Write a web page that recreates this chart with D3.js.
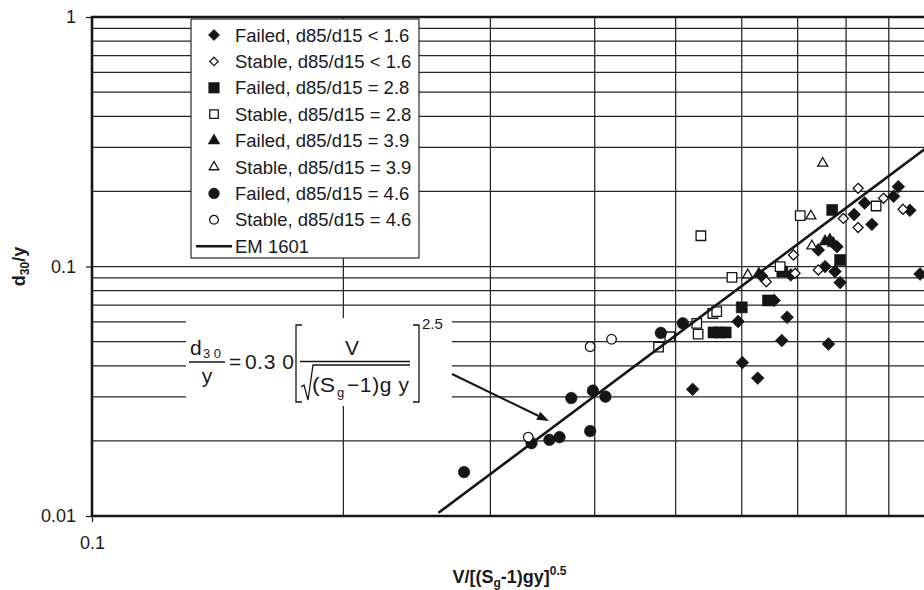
<!DOCTYPE html>
<html>
<head>
<meta charset="utf-8">
<script src="https://cdn.jsdelivr.net/npm/d3@7"></script>
<style>
  body { margin: 0; background: #fff; }
  text { font-family: "Liberation Sans", Arial, Helvetica, sans-serif; fill: #1a1a1a; }
</style>
</head>
<body>
<svg id="chart" width="924" height="590"></svg>
<script>
// ---- data: [V/sqrt((Sg-1)gy), d30/y] ----
const failedLt16 = [
  [0.524, 0.0322], [0.594, 0.0602], [0.601, 0.0412], [0.627, 0.0357], [0.634, 0.0916],
  [0.656, 0.0731], [0.670, 0.0505], [0.680, 0.0626], [0.687, 0.0925], [0.741, 0.1165],
  [0.755, 0.0999], [0.776, 0.0955], [0.787, 0.0862], [0.780, 0.1201], [0.762, 0.0489],
  [0.818, 0.1616], [0.842, 0.1797], [0.859, 0.1476], [0.912, 0.1911], [0.924, 0.2089],
  [0.954, 0.1680], [0.981, 0.0933]
];
const stableLt16 = [
  [0.642, 0.0869], [0.695, 0.0939], [0.692, 0.1112], [0.741, 0.0968], [0.794, 0.1558],
  [0.827, 0.2058], [0.827, 0.1433], [0.887, 0.1876], [0.936, 0.1696]
];
const failed28 = [
  [0.555, 0.0544], [0.564, 0.0544], [0.574, 0.0544], [0.600, 0.0686], [0.645, 0.0731],
  [0.671, 0.0955], [0.770, 0.1685], [0.787, 0.1062]
];
const stable28 = [
  [0.477, 0.0475], [0.492, 0.0523], [0.532, 0.0536], [0.530, 0.0592], [0.554, 0.0648],
  [0.560, 0.0659], [0.536, 0.1328], [0.584, 0.0904], [0.667, 0.0999], [0.705, 0.1598],
  [0.869, 0.1748]
];
const failed39 = [[0.629, 0.0934], [0.755, 0.1260], [0.765, 0.1277], [0.772, 0.1239]];
const stable39 = [[0.610, 0.0925], [0.726, 0.1594], [0.728, 0.1208], [0.750, 0.2593]];
const failed46 = [
  [0.279, 0.0150], [0.336, 0.0196], [0.353, 0.0202], [0.363, 0.0207], [0.375, 0.0297],
  [0.395, 0.0219], [0.398, 0.0318], [0.412, 0.0301], [0.480, 0.0542], [0.510, 0.0592]
];
const stable46 = [[0.333, 0.0207], [0.395, 0.0477], [0.419, 0.0511]];

// EM 1601 design line end points
const em1601 = [[0.26, 0.0103], [1.0, 0.30]];

// axes
const xGridValues = [0.2, 0.3, 0.4, 0.5, 0.6, 0.7, 0.8, 0.9];
const yGridValues = [0.02, 0.03, 0.04, 0.05, 0.06, 0.07, 0.08, 0.09, 0.1,
                     0.2, 0.3, 0.4, 0.5, 0.6, 0.7, 0.8, 0.9];
const xTickLabels = [0.1];
const yTickLabels = [0.01, 0.1, 1];

const seriesLabels = [
  "Failed, d85/d15 < 1.6", "Stable, d85/d15 < 1.6",
  "Failed, d85/d15 = 2.8", "Stable, d85/d15 = 2.8",
  "Failed, d85/d15 = 3.9", "Stable, d85/d15 = 3.9",
  "Failed, d85/d15 = 4.6", "Stable, d85/d15 = 4.6"
];
const lineLabel = "EM 1601";

// ---- layout ----
const svg = d3.select("#chart");
const L = 92, T = 17, R = 927, B = 516;
const x = d3.scaleLog().domain([0.1, 1]).range([L, R]);
const y = d3.scaleLog().domain([0.01, 1]).range([B, T]);
const ink = "#151515";

svg.append("rect").attr("width", 924).attr("height", 590).attr("fill", "#fff");

// grid
const grid = svg.append("g").attr("stroke", "#262626").attr("stroke-width", 1.25);
grid.selectAll("line.h").data(yGridValues).join("line")
  .attr("x1", L).attr("x2", R).attr("y1", d => y(d)).attr("y2", d => y(d));
grid.selectAll("line.v").data(xGridValues).join("line")
  .attr("y1", T).attr("y2", B).attr("x1", d => x(d)).attr("x2", d => x(d));

// marker shapes
function shapePath(shape, s) {
  if (shape === "diamond") return `M0,${-s}L${s},0L0,${s}L${-s},0Z`;
  if (shape === "square") return `M${-s/2},${-s/2}h${s}v${s}h${-s}Z`;
  if (shape === "triangle") {
    const h = s * Math.sqrt(3) / 2;
    return `M0,${-h*2/3}L${s/2},${h/3}L${-s/2},${h/3}Z`;
  }
  const r = s;
  return `M${r},0A${r},${r} 0 1,1 ${-r},0A${r},${r} 0 1,1 ${r},0Z`;
}

const series = [
  { data: failedLt16, shape: "diamond",  filled: true,  size: 6.4, lsize: 5.6 },
  { data: stableLt16, shape: "diamond",  filled: false, size: 5.0, lsize: 4.2 },
  { data: failed28,   shape: "square",   filled: true,  size: 11,  lsize: 10.5 },
  { data: stable28,   shape: "square",   filled: false, size: 9.5, lsize: 8.5 },
  { data: failed39,   shape: "triangle", filled: true,  size: 12,  lsize: 11.5 },
  { data: stable39,   shape: "triangle", filled: false, size: 10,  lsize: 9.5 },
  { data: failed46,   shape: "circle",   filled: true,  size: 5.8, lsize: 5.3 },
  { data: stable46,   shape: "circle",   filled: false, size: 4.8, lsize: 4.4 }
];

// equation panel background
svg.append("rect").attr("x", 186).attr("y", 318).attr("width", 266).attr("height", 88).attr("fill", "#fff");

// legend box
const lg = svg.append("g");
lg.append("rect").attr("x", 191).attr("y", 19).attr("width", 228).attr("height", 239)
  .attr("fill", "#fff").attr("stroke", ink).attr("stroke-width", 1.1);
const rowY = i => 35 + i * 26.4;
series.forEach((s, i) => {
  lg.append("path").attr("d", shapePath(s.shape, s.lsize))
    .attr("transform", `translate(214,${rowY(i)})`)
    .attr("fill", s.filled ? ink : "#fff").attr("stroke", ink)
    .attr("stroke-width", s.filled ? 0.6 : 1.3);
  lg.append("text").attr("x", 235).attr("y", rowY(i)).attr("dy", "0.36em")
    .attr("font-size", 18.5).text(seriesLabels[i]);
});
lg.append("line").attr("x1", 196).attr("x2", 232).attr("y1", rowY(8)).attr("y2", rowY(8))
  .attr("stroke", ink).attr("stroke-width", 2.6);
lg.append("text").attr("x", 235).attr("y", rowY(8)).attr("dy", "0.36em")
  .attr("font-size", 18.5).text(lineLabel);

// data markers
const clip = svg.append("clipPath").attr("id", "plotClip");
clip.append("rect").attr("x", L).attr("y", T).attr("width", R - L).attr("height", B - T);
const marks = svg.append("g").attr("clip-path", "url(#plotClip)");
series.forEach(s => {
  marks.append("g").selectAll("path").data(s.data).join("path")
    .attr("d", shapePath(s.shape, s.size))
    .attr("transform", d => `translate(${x(d[0])},${y(d[1])})`)
    .attr("fill", s.filled ? ink : "#fff").attr("stroke", ink)
    .attr("stroke-width", s.filled ? 0.6 : 1.3);
});

// EM 1601 line
marks.append("path").datum(em1601)
  .attr("d", d3.line().x(d => x(d[0])).y(d => y(d[1])))
  .attr("fill", "none").attr("stroke", ink).attr("stroke-width", 2.6);

// frame
const frame = svg.append("g").attr("stroke", ink).attr("stroke-width", 2.6).attr("fill", "none");
frame.append("path").attr("d", `M${R},${T}H${L}V${B}H${R}`);

// axes (tick marks + labels)
const yAxis = d3.axisLeft(y).tickValues(yTickLabels).tickFormat(d3.format("")).tickSize(6).tickPadding(10);
const ya = svg.append("g").attr("transform", `translate(${L},0)`).call(yAxis);
ya.select(".domain").remove();
ya.selectAll("line").attr("stroke", ink).attr("stroke-width", 1.2);
ya.selectAll("text").attr("font-size", 18).attr("fill", "#1a1a1a")
  .attr("font-family", "Liberation Sans, Arial, sans-serif");

const xAxis = d3.axisBottom(x).tickValues(xTickLabels).tickFormat(d3.format("")).tickSize(6).tickPadding(14);
const xa = svg.append("g").attr("transform", `translate(0,${B})`).call(xAxis);
xa.select(".domain").remove();
xa.selectAll("line").attr("stroke", ink).attr("stroke-width", 1.2);
xa.selectAll("text").attr("font-size", 18).attr("fill", "#1a1a1a")
  .attr("font-family", "Liberation Sans, Arial, sans-serif");

// axis titles
const xt = svg.append("text").attr("x", (L + R) / 2).attr("y", 583).attr("text-anchor", "middle")
  .attr("font-size", 18).attr("font-weight", "bold");
xt.append("tspan").text("V/[(S");
xt.append("tspan").attr("font-size", 12).attr("dy", 4).text("g");
xt.append("tspan").attr("dy", -4).text("-1)gy]");
xt.append("tspan").attr("font-size", 12).attr("dy", -8).text("0.5");

const yt = svg.append("text").attr("transform", `translate(25,${(T + B) / 2}) rotate(-90)`)
  .attr("text-anchor", "middle").attr("font-size", 18).attr("font-weight", "bold");
yt.append("tspan").text("d");
yt.append("tspan").attr("font-size", 12).attr("dy", 4).text("30");
yt.append("tspan").attr("dy", -4).text("/y");

// design equation
const eq = svg.append("g");
eq.append("text").attr("x", 190).attr("y", 355).attr("font-size", 21).text("d");
eq.append("text").attr("x", 203).attr("y", 358).attr("font-size", 13)
  .attr("textLength", 18).attr("lengthAdjust", "spacing").text("3 0");
eq.append("line").attr("x1", 189).attr("x2", 225).attr("y1", 362).attr("y2", 362)
  .attr("stroke", ink).attr("stroke-width", 1.3);
eq.append("text").attr("x", 207).attr("y", 383).attr("font-size", 21).attr("text-anchor", "middle").text("y");
eq.append("text").attr("x", 229).attr("y", 369).attr("font-size", 21).text("=");
eq.append("text").attr("x", 245).attr("y", 369).attr("font-size", 21)
  .attr("textLength", 49).attr("lengthAdjust", "spacing").text("0.3 0");
eq.append("path").attr("d", "M302,325H296V402H302").attr("fill", "none").attr("stroke", ink).attr("stroke-width", 1.3);
eq.append("path").attr("d", "M413,325H419V402H413").attr("fill", "none").attr("stroke", ink).attr("stroke-width", 1.3);
eq.append("text").attr("x", 352).attr("y", 355).attr("font-size", 21).attr("text-anchor", "middle").text("V");
eq.append("line").attr("x1", 300).attr("x2", 410).attr("y1", 361.5).attr("y2", 361.5)
  .attr("stroke", ink).attr("stroke-width", 1.3);
eq.append("path").attr("d", "M301,387L304,385L308,400L313,365H410")
  .attr("fill", "none").attr("stroke", ink).attr("stroke-width", 1.3);
eq.append("text").attr("x", 312).attr("y", 392).attr("font-size", 21)
  .attr("textLength", 23).attr("lengthAdjust", "spacingAndGlyphs").text("(S");
eq.append("text").attr("x", 337).attr("y", 397).attr("font-size", 13).text("g");
eq.append("text").attr("x", 347).attr("y", 392).attr("font-size", 21)
  .attr("textLength", 62).attr("lengthAdjust", "spacing").text("\u22121)g y");
eq.append("text").attr("x", 422).attr("y", 329).attr("font-size", 15).text("2.5");

// arrow to the design line
const a0 = [452, 374], a1 = [549, 421];
const ang = Math.atan2(a1[1] - a0[1], a1[0] - a0[0]);
const hl = 12, hw = 4.5;
const base = [a1[0] - hl * Math.cos(ang), a1[1] - hl * Math.sin(ang)];
svg.append("line").attr("x1", a0[0]).attr("y1", a0[1]).attr("x2", base[0]).attr("y2", base[1])
  .attr("stroke", ink).attr("stroke-width", 2);
svg.append("path")
  .attr("d", `M${a1[0]},${a1[1]}L${base[0] - hw * Math.sin(ang)},${base[1] + hw * Math.cos(ang)}L${base[0] + hw * Math.sin(ang)},${base[1] - hw * Math.cos(ang)}Z`)
  .attr("fill", ink);
</script>
</body>
</html>
